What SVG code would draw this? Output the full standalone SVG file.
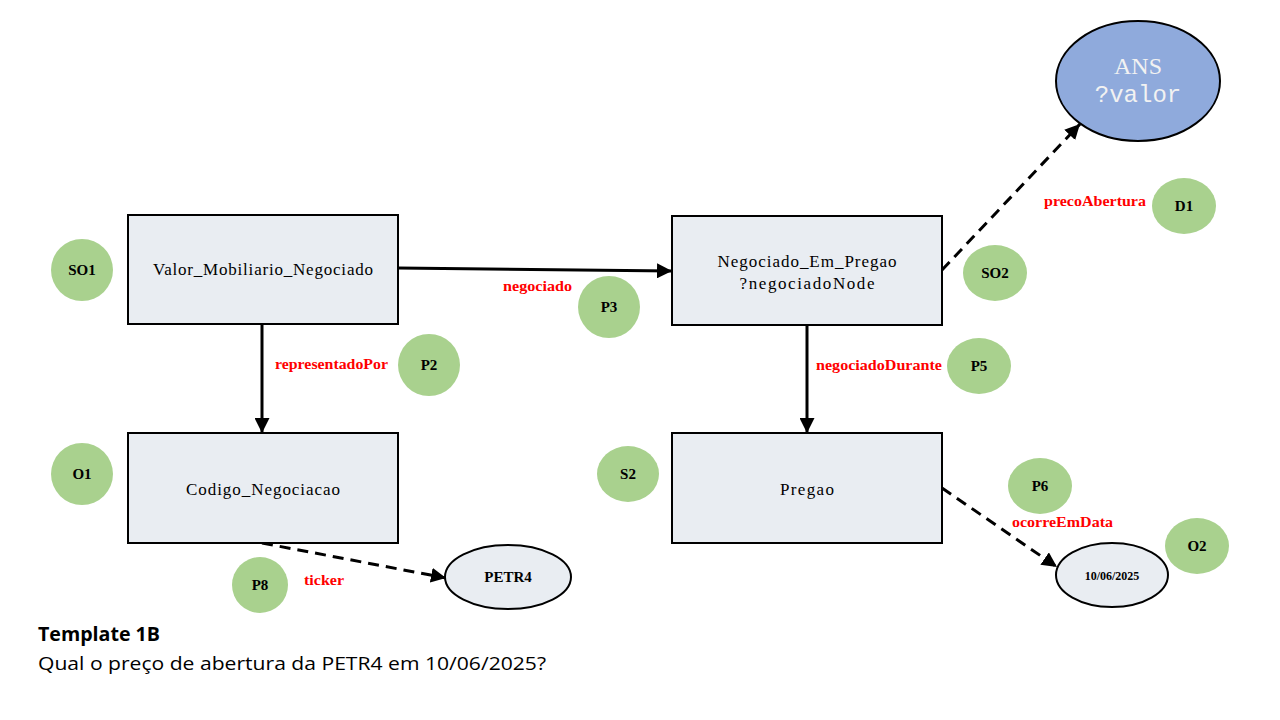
<svg xmlns="http://www.w3.org/2000/svg" width="1280" height="720" viewBox="0 0 1280 720">
<style>
.box{fill:#e9edf2;stroke:#000;stroke-width:2}
.bt{font-family:"Liberation Serif",serif;font-size:17px;fill:#000;text-anchor:middle}
.tag{fill:#a9d18e}
.tt{font-family:"Liberation Serif",serif;font-size:15px;font-weight:bold;fill:#000;text-anchor:middle}
.lbl{font-family:"Liberation Serif",serif;font-size:14px;font-weight:bold;fill:#ff0000}
.ln{stroke:#000;stroke-width:3;fill:none}
.ds{stroke-dasharray:11 7}
</style>
<defs>
<marker id="ah" viewBox="0 0 10 10" refX="10" refY="5" markerWidth="5" markerHeight="5" orient="auto" markerUnits="strokeWidth">
<path d="M0,0 L10,5 L0,10 z" fill="#000"/>
</marker>
</defs>
<rect width="1280" height="720" fill="#fff"/>
<g id="connectors">
<line class="ln" x1="398" y1="268" x2="672" y2="271" marker-end="url(#ah)"/>
<line class="ln" x1="262" y1="324" x2="262" y2="433" marker-end="url(#ah)"/>
<line class="ln" x1="807" y1="325" x2="807" y2="433" marker-end="url(#ah)"/>
<line class="ln ds" x1="942" y1="270" x2="1080" y2="124" marker-end="url(#ah)"/>
<line class="ln ds" x1="942" y1="488" x2="1057" y2="567" marker-end="url(#ah)"/>
<line class="ln ds" x1="262" y1="543" x2="446" y2="578" marker-end="url(#ah)"/>
<text class="lbl" x="503" y="291" textLength="69" lengthAdjust="spacingAndGlyphs">negociado</text>
<text class="lbl" x="275" y="369" textLength="113" lengthAdjust="spacingAndGlyphs">representadoPor</text>
<text class="lbl" x="816" y="370" textLength="126" lengthAdjust="spacingAndGlyphs">negociadoDurante</text>
<text class="lbl" x="1044" y="206" textLength="102" lengthAdjust="spacingAndGlyphs">precoAbertura</text>
<text class="lbl" x="1012" y="527" textLength="101" lengthAdjust="spacingAndGlyphs">ocorreEmData</text>
<text class="lbl" x="304" y="585" textLength="40" lengthAdjust="spacingAndGlyphs">ticker</text>
</g>
<g id="valor">
<rect class="box" x="128" y="215" width="270" height="109"/>
<text class="bt" x="263" y="275" textLength="220">Valor_Mobiliario_Negociado</text>
</g>
<g id="negociadoEmPregao">
<rect class="box" x="672" y="216" width="270" height="109"/>
<text class="bt" x="807" y="267" textLength="179">Negociado_Em_Pregao</text>
<text class="bt" x="807" y="289" textLength="135">?negociadoNode</text>
</g>
<g id="codigo">
<rect class="box" x="128" y="433" width="270" height="110"/>
<text class="bt" x="263" y="495" textLength="154">Codigo_Negociacao</text>
</g>
<g id="pregao">
<rect class="box" x="672" y="433" width="270" height="110"/>
<text class="bt" x="807" y="495" textLength="54">Pregao</text>
</g>
<g id="ans">
<ellipse cx="1138" cy="81" rx="82" ry="60" fill="#8faadc" stroke="#000" stroke-width="2"/>
<text x="1138" y="74" font-family="Liberation Serif,serif" font-size="24" fill="#f2f2f2" text-anchor="middle">ANS</text>
<text x="1138" y="102" font-family="Liberation Mono,monospace" font-size="24" fill="#f2f2f2" text-anchor="middle">?valor</text>
</g>
<g id="petr4">
<ellipse cx="508" cy="577" rx="63" ry="32" fill="#e9edf2" stroke="#000" stroke-width="2"/>
<text class="tt" x="508" y="582">PETR4</text>
</g>
<g id="data">
<ellipse cx="1112" cy="575" rx="56" ry="32" fill="#e9edf2" stroke="#000" stroke-width="2"/>
<text x="1112" y="580" font-family="Liberation Serif,serif" font-size="12" font-weight="bold" text-anchor="middle">10/06/2025</text>
</g>
<g id="SO1"><ellipse class="tag" cx="82" cy="270" rx="31" ry="31"/><text class="tt" x="82" y="275">SO1</text></g>
<g id="P3"><ellipse class="tag" cx="609" cy="307" rx="31" ry="31"/><text class="tt" x="609" y="312">P3</text></g>
<g id="P2"><ellipse class="tag" cx="429" cy="365" rx="31" ry="31"/><text class="tt" x="429" y="370">P2</text></g>
<g id="O1"><ellipse class="tag" cx="82" cy="474" rx="31" ry="31"/><text class="tt" x="82" y="479">O1</text></g>
<g id="S2"><ellipse class="tag" cx="628" cy="474" rx="31" ry="28"/><text class="tt" x="628" y="479">S2</text></g>
<g id="P5"><ellipse class="tag" cx="979" cy="366" rx="32" ry="28"/><text class="tt" x="979" y="371">P5</text></g>
<g id="SO2"><ellipse class="tag" cx="995" cy="273" rx="32" ry="28"/><text class="tt" x="995" y="278">SO2</text></g>
<g id="D1"><ellipse class="tag" cx="1184" cy="206" rx="32" ry="28"/><text class="tt" x="1184" y="211">D1</text></g>
<g id="P6"><ellipse class="tag" cx="1040" cy="486" rx="32" ry="28"/><text class="tt" x="1040" y="491">P6</text></g>
<g id="O2"><ellipse class="tag" cx="1197" cy="546" rx="32" ry="28"/><text class="tt" x="1197" y="551">O2</text></g>
<g id="P8"><ellipse class="tag" cx="260" cy="585" rx="28" ry="28"/><text class="tt" x="260" y="590">P8</text></g>
<g id="caption">
<text x="38" y="641" font-family="Open Sans,sans-serif" font-size="19" font-weight="bold" fill="#000" textLength="122" lengthAdjust="spacingAndGlyphs">Template 1B</text>
<text x="38" y="670" font-family="Open Sans,sans-serif" font-size="19" fill="#000" textLength="508" lengthAdjust="spacingAndGlyphs">Qual o preço de abertura da PETR4 em 10/06/2025?</text>
</g>
</svg>
